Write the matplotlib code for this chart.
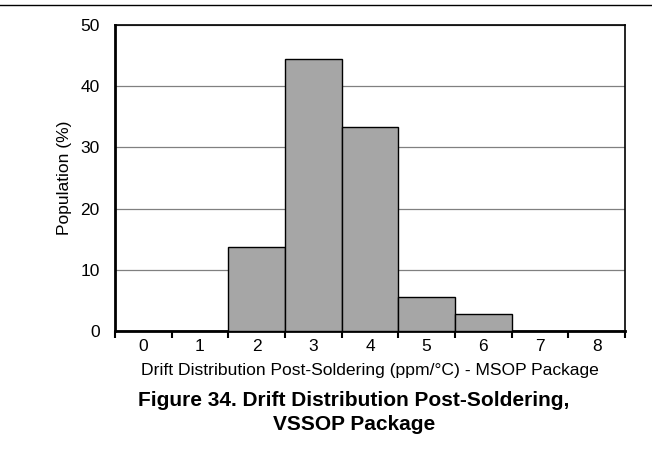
import matplotlib
matplotlib.use("Agg")
import matplotlib.pyplot as plt
import numpy as np
from matplotlib.lines import Line2D

plt.rcParams['font.family'] = ['Liberation Sans', 'DejaVu Sans']

drift = [0, 1, 2, 3, 4, 5, 6, 7, 8]
population = [0, 0, 13.8, 44.4, 33.3, 5.5, 2.7, 0, 0]
yticks = [0, 10, 20, 30, 40, 50]

fig = plt.figure(figsize=(6.52, 4.5), dpi=100)
# axes box: x 115..625, y 25..331 px
ax = fig.add_axes([115/652, 1 - 331/450, 510/652, 306/450])

ax.bar(drift, population, width=1.0, color='#a6a6a6', edgecolor='black', linewidth=1.0, zorder=3)

ax.set_xlim(-0.5, 8.5)
ax.set_ylim(0, 50)
ax.set_yticks(yticks)
ax.yaxis.grid(True, color='#808080', linewidth=0.9, zorder=0)
ax.tick_params(axis='y', length=0, labelsize=12.5, pad=11)

# tick marks at bin edges, labels at bin centres
ax.set_xticks(np.arange(-0.5, 9.0, 1.0))
ax.set_xticklabels([])
ax.set_xticks(drift, minor=True)
ax.set_xticklabels([str(d) for d in drift], minor=True)
ax.tick_params(axis='x', which='major', length=5, width=1.5, direction='out')
ax.tick_params(axis='x', which='minor', length=0, labelsize=12.5, pad=6)

for side in ['top', 'right']:
    ax.spines[side].set_linewidth(1.2)
for side in ['left', 'bottom']:
    ax.spines[side].set_linewidth(2.0)

ax.set_ylabel('Population (%)', fontsize=12.5, labelpad=6)
ax.set_xlabel('Drift Distribution Post-Soldering (ppm/°C) - MSOP Package', fontsize=12.6, labelpad=6)

fig.text(354/652, 1 - 401/450, 'Figure 34. Drift Distribution Post-Soldering,', ha='center', va='center',
         fontsize=15, fontweight='bold')
fig.text(354/652, 1 - 424/450, 'VSSOP Package', ha='center', va='center',
         fontsize=15, fontweight='bold')

fig.add_artist(Line2D([0, 1], [1 - 5/450, 1 - 5/450], color='black', linewidth=1.0, transform=fig.transFigure))

fig.savefig('out.png', dpi=100)
